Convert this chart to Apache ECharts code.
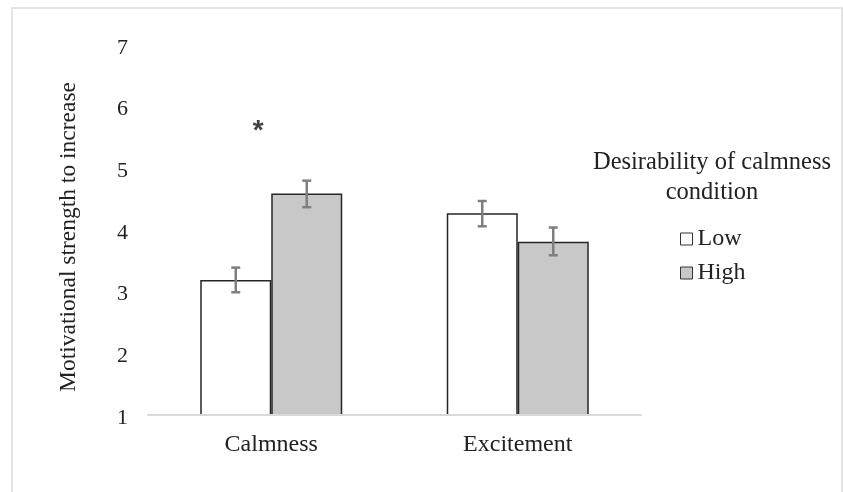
<!DOCTYPE html>
<html>
<head>
<meta charset="utf-8">
<script src="https://cdn.jsdelivr.net/npm/echarts@6/dist/echarts.min.js"></script>
<style>
  html, body { margin: 0; padding: 0; background: #fff; }
  #chart { width: 843px; height: 492px; }
</style>
</head>
<body>
<div id="chart"></div>
<script>
const categories = ['Calmness', 'Excitement']
const groupNames = ['Low', 'High']
const lowValues = [3.19, 4.27]
const highValues = [4.59, 3.81]
// error bar ends [lower, upper]
const lowErrors = [[2.99, 3.39], [4.06, 4.47]]
const highErrors = [[4.37, 4.80], [3.59, 4.04]]
const yTicks = [1, 2, 3, 4, 5, 6, 7]
const starMarks = [[0, 5.6]]

const FONT = '"Liberation Serif", "DejaVu Serif", serif'
const BAR_W = 71

const chart = echarts.init(document.getElementById('chart'))

function errorSeries(name, errors, shift) {
  return {
    name: name + '-err',
    type: 'custom',
    z: 5,
    silent: true,
    data: errors.map((e, i) => [i, e[0], e[1]]),
    renderItem: (params, api) => {
      const lo = api.coord([api.value(0), api.value(1)])
      const hi = api.coord([api.value(0), api.value(2)])
      const x = lo[0] + shift
      const cap = 4.5
      const style = { stroke: '#7f7f7f', lineWidth: 2.5 }
      return {
        type: 'group',
        children: [
          { type: 'line', shape: { x1: x, y1: lo[1], x2: x, y2: hi[1] }, style },
          { type: 'line', shape: { x1: x - cap, y1: lo[1], x2: x + cap, y2: lo[1] }, style },
          { type: 'line', shape: { x1: x - cap, y1: hi[1], x2: x + cap, y2: hi[1] }, style }
        ]
      }
    }
  }
}

const option = {
  animation: false,
  backgroundColor: '#fff',
  textStyle: { fontFamily: FONT },
  grid: { left: 148, right: 202, top: 45, bottom: 77 },
  title: {
    text: 'Desirability of calmness\ncondition',
    left: 707,
    top: 143,
    textAlign: 'center',
    textStyle: {
      fontFamily: FONT,
      fontWeight: 'normal',
      fontSize: 24.5,
      lineHeight: 30,
      color: '#222'
    }
  },
  legend: {
    orient: 'vertical',
    left: 675,
    top: 222,
    itemGap: 10,
    itemWidth: 12,
    itemHeight: 12,
    icon: 'rect',
    itemStyle: { borderColor: '#333', borderWidth: 1 },
    textStyle: { fontFamily: FONT, fontSize: 24, color: '#222', padding: [0, 0, 0, 0] },
    data: groupNames
  },
  graphic: [{
    type: 'rect',
    silent: true,
    shape: { x: 12, y: 8, width: 830, height: 500 },
    style: { fill: 'none', stroke: '#dcdcdc', lineWidth: 1.5 }
  }],
  xAxis: {
    type: 'category',
    data: categories,
    z: 10,
    axisLine: { lineStyle: { color: '#d9d9d9', width: 2 } },
    axisTick: { show: false },
    axisLabel: { fontFamily: FONT, fontSize: 24, color: '#222', margin: 18 }
  },
  yAxis: {
    type: 'value',
    min: yTicks[0],
    max: yTicks[yTicks.length - 1],
    interval: 1,
    name: 'Motivational strength to increase',
    nameLocation: 'middle',
    nameGap: 67,
    nameTextStyle: { fontFamily: FONT, fontSize: 23.5, color: '#222', padding: [0, 14, 0, 0] },
    axisLine: { show: false },
    axisTick: { show: false },
    splitLine: { show: false },
    axisLabel: {
      margin: 20,
      formatter: v => '{t|' + v + '}',
      rich: { t: { fontFamily: FONT, fontSize: 22, color: '#222', padding: [6, 0, 0, 0] } }
    }
  },
  series: [
    {
      name: groupNames[0],
      type: 'bar',
      barWidth: BAR_W,
      barGap: '0%',
      data: lowValues,
      itemStyle: { color: '#ffffff', borderColor: '#262626', borderWidth: 1.5 }
    },
    {
      name: groupNames[1],
      type: 'bar',
      barWidth: BAR_W,
      barGap: '0%',
      data: highValues,
      itemStyle: { color: '#c7c8c7', borderColor: '#262626', borderWidth: 1.5 }
    },
    errorSeries(groupNames[0], lowErrors, -BAR_W / 2),
    errorSeries(groupNames[1], highErrors, BAR_W / 2),
    {
      name: 'sig',
      type: 'scatter',
      symbolSize: 0,
      silent: true,
      data: starMarks,
      label: {
        show: true,
        formatter: '*',
        position: 'inside',
        offset: [-13, 0],
        fontFamily: '"Liberation Sans", sans-serif',
        fontWeight: 'bold',
        fontSize: 28,
        color: '#111'
      }
    }
  ]
}

chart.setOption(option)
</script>
</body>
</html>
